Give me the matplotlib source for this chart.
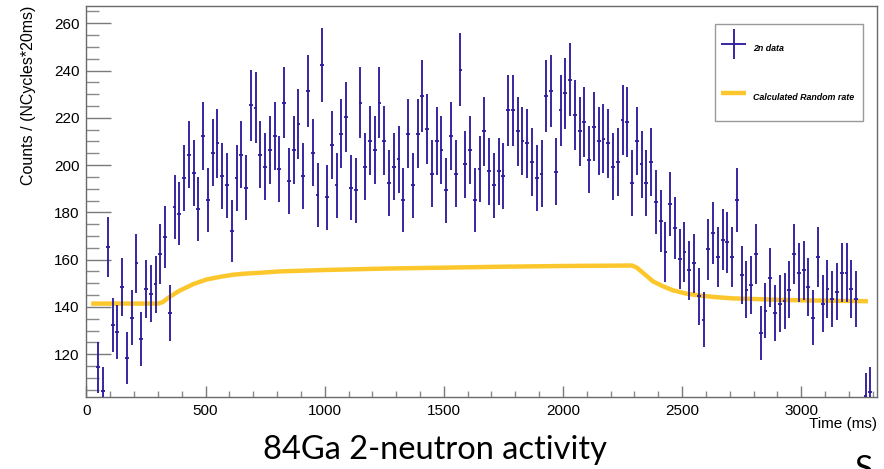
import numpy as np
import matplotlib
matplotlib.use("Agg")
import matplotlib.pyplot as plt
from matplotlib.legend_handler import HandlerErrorbar
from matplotlib.patches import Rectangle

# ---------------- data ----------------
bin_start_ms = 50
bin_width_ms = 20
counts = [
    114.4, 104.5, 165.3, 132.2, 129.4, 148.5, 118.4, 135.5, 158.4, 126.4,
    147.5, 145.5, 149.5, 162.3, 169.5, 137.5, 182.4, 179.4, 194.4, 204.4,
    196.5, 181.4, 212.3, 185.3, 205.3, 209.2, 195.2, 191.4, 172.3, 194.4,
    204.4, 190.4, 225.3, 224.3, 204.4, 199.3, 206.4, 212.3, 198.3, 226.3,
    193.4, 206.4, 217.3, 195.4, 231.4, 205.3, 187.3, 242.3, 186.3, 208.4,
    191.4, 213.3, 220.2, 190.4, 189.3, 226.3, 199.3, 210.3, 206.4, 226.3,
    210.3, 192.4, 199.3, 202.4, 185.3, 213.3, 191.4, 213.3, 229.3, 215.3,
    196.4, 210.2, 206.2, 189.3, 212.3, 196.4, 240.3, 200.3, 206.2, 185.3,
    198.3, 214.3, 197.3, 191.4, 197.3, 195.4, 223.2, 223.2, 214.3, 210.2,
    209.2, 201.3, 194.4, 196.4, 229.3, 231.2, 197.2, 223.2, 230.3, 236.2,
    221.2, 214.3, 218.2, 202.3, 216.3, 210.2, 211.2, 209.2, 199.3, 201.3,
    219.2, 218.2, 192.4, 210.2, 200.3, 192.4, 201.3, 184.3, 176.3, 163.3,
    183.4, 173.3, 160.3, 163.3, 155.4, 158.4, 144.5, 134.5, 164.3, 171.4,
    161.3, 168.4, 167.3, 161.3, 185.3, 153.4, 147.3, 149.3, 162.3, 129.0,
    138.4, 152.4, 137.5, 141.4, 142.4, 147.3, 162.3, 154.4, 155.4, 148.5,
    135.5, 161.3, 141.4, 147.5, 143.4, 146.4, 154.4, 154.4, 147.5, 143.4,
    np.nan, 102.1, 104.2,
]
time_ms = [bin_start_ms + bin_width_ms * i for i in range(len(counts))]

rate_time_ms = [20, 300, 320, 350, 390, 450, 505, 560, 615, 670, 740, 810,
                1000, 1250, 1500, 1750, 2000, 2290, 2310, 2336, 2378, 2420,
                2462, 2518, 2574, 2644, 2713, 2784, 2900, 3050, 3280]
rate_values = [141.4, 141.4, 142.0, 144.3, 146.8, 149.7, 151.6, 152.7, 153.6,
               154.1, 154.5, 155.0, 155.6, 156.2, 156.6, 157.0, 157.3, 157.5,
               156.6, 154.4, 150.8, 148.7, 147.0, 145.6, 144.8, 144.1, 143.6,
               143.4, 143.0, 142.7, 142.4]

y_ticks = [120, 140, 160, 180, 200, 220, 240, 260]
x_ticks = [0, 500, 1000, 1500, 2000, 2500, 3000]

# ---------------- style ----------------
data_color = "#2e1fa0"
rate_color = "#fcc72c"
frame_color = "#6a6a6a"
tick_font = "Liberation Sans"

fig = plt.figure(figsize=(8.84, 4.69), dpi=100)
ax = fig.add_axes([86.4 / 884, 1 - 396.7 / 469, (877 - 86.4) / 884, (396.7 - 6) / 469])

counts_arr = np.array(counts, dtype=float)
yerr = np.sqrt(counts_arr)
eb = ax.errorbar(time_ms, counts_arr, yerr=yerr, xerr=8, fmt="none",
                 ecolor=data_color, elinewidth=1.35, capsize=0, zorder=3,
                 label="2n data")
rate_line, = ax.plot(rate_time_ms, rate_values, color=rate_color, lw=3.2,
                     solid_capstyle="butt", zorder=2,
                     label="Calculated Random rate")

ax.set_xlim(0, 3318)
ax.set_ylim(102.0, 267.3)
ax.set_xticks(x_ticks)
ax.set_yticks(y_ticks)
ax.set_xticks(np.arange(0, 3301, 100), minor=True)
ax.set_yticks(np.arange(105, 266, 5), minor=True)

for s in ax.spines.values():
    s.set_color(frame_color)
    s.set_linewidth(1.0)

ax.tick_params(axis="y", which="major", direction="in", length=18, width=1,
               color="#7a7a7a", pad=5, labelsize=11)
ax.tick_params(axis="y", which="minor", direction="in", length=9, width=1,
               color="#8a8a8a")
ax.tick_params(axis="x", which="major", direction="in", length=8, width=1,
               color="#7a7a7a", pad=5, labelsize=11)
ax.tick_params(axis="x", which="minor", direction="in", length=4.5, width=1,
               color="#8a8a8a")
for lab in ax.get_xticklabels() + ax.get_yticklabels():
    lab.set_fontfamily(tick_font)

ax.set_ylabel("Counts / (NCycles*20ms)", fontsize=11.5, family=tick_font)
ax.yaxis.set_label_coords(-0.064, 1.0)
ax.yaxis.label.set_horizontalalignment("right")

fig.text(877 / 884, 1 - 424 / 469, "Time (ms)", ha="right", va="center",
         fontsize=11, family=["Liberation Sans Narrow", "Liberation Sans"])

fig.text(435 / 884, 1 - 450 / 469, "84Ga 2-neutron activity", ha="center",
         va="center", fontsize=23.5, family="Lato")
fig.text(864 / 884, 1 - 455 / 469, "S", ha="center", va="top", fontsize=24,
         family="Lato")

# legend: frame drawn as a box, entries placed inside it
ax.add_patch(Rectangle((0.795, 0.7057), 0.9823 - 0.795, 0.954 - 0.7057,
                       transform=ax.transAxes, facecolor="white",
                       edgecolor="#9a9a9a", lw=1.0, zorder=4))
leg_fs = 6.4
leg = ax.legend(handles=[eb, rate_line],
                labels=["2n data", "Calculated Random rate"],
                loc="upper left", bbox_to_anchor=(0.8027, 0.9204),
                prop={"family": tick_font, "style": "italic",
                      "weight": "bold", "size": leg_fs},
                handler_map={type(eb): HandlerErrorbar(xerr_size=1.41,
                                                       yerr_size=1.69)},
                handlelength=2.82, handleheight=3.45, handletextpad=0.75,
                borderpad=0, labelspacing=3.05, borderaxespad=0,
                frameon=False)
leg.set_zorder(5)

fig.savefig("out.png", dpi=100)
